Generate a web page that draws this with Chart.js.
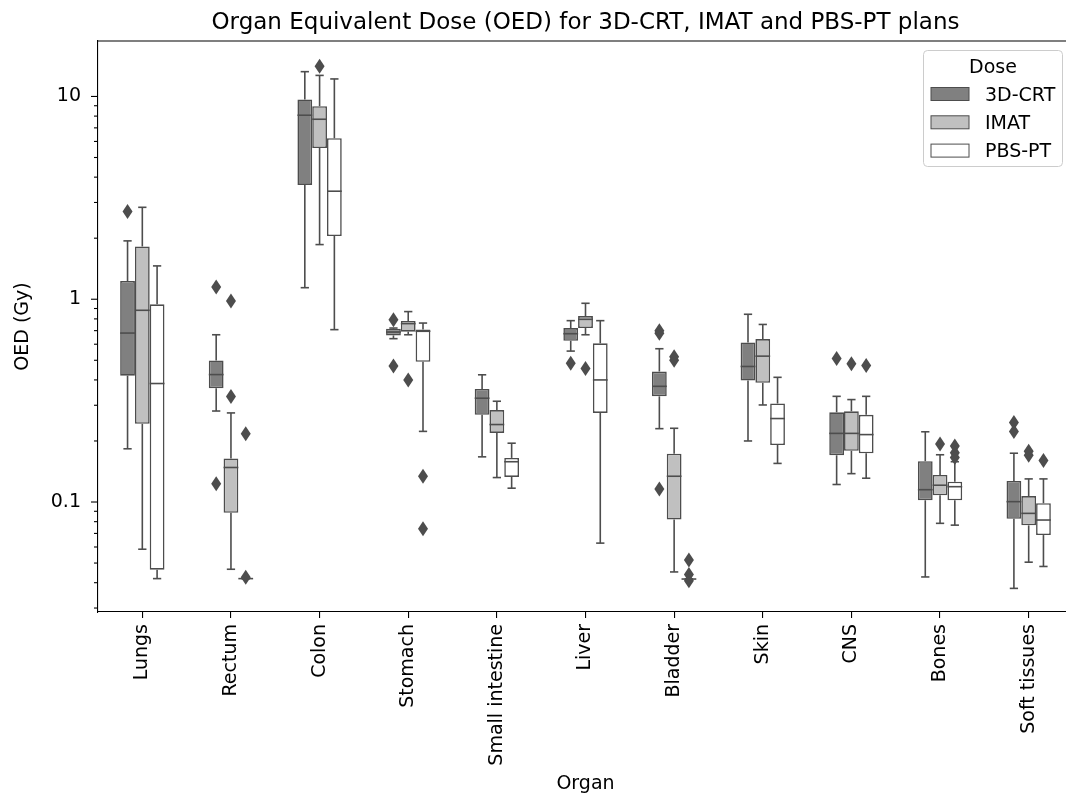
<!DOCTYPE html>
<html lang="en">
<head>
  <meta charset="UTF-8">
  <title>Organ Equivalent Dose</title>
  <script src="https://cdn.jsdelivr.net/npm/chart.js"></script>
  <style>
    html, body { margin: 0; padding: 0; overflow: hidden; background: #fff; }
    #wrap { width: 1080px; height: 795px; }
  </style>
</head>
<body>
<div id="wrap"><canvas id="grafico" width="1080" height="795"></canvas></div>
<script>
  const organs = ['Lungs', 'Rectum', 'Colon', 'Stomach', 'Small intestine', 'Liver', 'Bladder', 'Skin', 'CNS', 'Bones', 'Soft tissues'];
  const doses = ['3D-CRT', 'IMAT', 'PBS-PT'];
  const yMajor = [0.1, 1, 10];
  const yMajorLabels = ['0.1', '1', '10'];
  const yMinor = [0.03, 0.04, 0.05, 0.06, 0.07, 0.08, 0.09, 0.2, 0.3, 0.4, 0.5, 0.6, 0.7, 0.8, 0.9, 2, 3, 4, 5, 6, 7, 8, 9];

  // 3D-CRT
  const crtLow  = [0.183, 0.281, 1.14, 0.639, 0.167, 0.555, 0.23, 0.200, 0.122, 0.0427, 0.0375];
  const crtQ1   = [0.42, 0.364, 3.66, 0.663, 0.269, 0.624, 0.332, 0.397, 0.170, 0.102, 0.0827];
  const crtMed  = [0.681, 0.425, 8.08, 0.689, 0.325, 0.676, 0.372, 0.466, 0.218, 0.115, 0.1004];
  const crtQ3   = [1.23, 0.499, 9.67, 0.716, 0.361, 0.721, 0.44, 0.612, 0.277, 0.159, 0.127];
  const crtHigh = [1.94, 0.668, 13.25, 0.721, 0.424, 0.784, 0.57, 0.843, 0.332, 0.222, 0.174];
  const crtOut  = [[2.71], [1.15, 0.123], [], [0.793, 0.468], [], [0.484], [0.68, 0.70, 0.116], [], [0.510], [], [0.247, 0.223]];

  // IMAT
  const imatLow  = [0.0585, 0.0466, 1.86, 0.668, 0.132, 0.668, 0.0452, 0.301, 0.138, 0.0785, 0.0505];
  const imatQ1   = [0.243, 0.0885, 5.57, 0.692, 0.219, 0.721, 0.082, 0.387, 0.179, 0.108, 0.0767];
  const imatMed  = [0.882, 0.148, 7.72, 0.758, 0.241, 0.796, 0.134, 0.524, 0.218, 0.121, 0.0879];
  const imatQ3   = [1.82, 0.164, 8.95, 0.781, 0.284, 0.826, 0.173, 0.636, 0.280, 0.136, 0.107];
  const imatHigh = [2.84, 0.275, 12.7, 0.869, 0.314, 0.955, 0.231, 0.751, 0.320, 0.171, 0.130];
  const imatOut  = [[], [0.98, 0.331], [14.1], [0.40], [], [0.455], [0.50, 0.52], [], [0.481], [0.193], [0.178, 0.170]];

  // PBS-PT
  const pbsLow  = [0.0419, 0.0419, 0.708, 0.223, 0.117, 0.0627, 0.0417, 0.155, 0.131, 0.0769, 0.0481];
  const pbsQ1   = [0.0464, 0.0419, 2.05, 0.491, 0.133, 0.275, 0.0417, 0.191, 0.174, 0.102, 0.0687];
  const pbsMed  = [0.384, 0.0419, 3.41, 0.695, 0.158, 0.40, 0.0417, 0.258, 0.215, 0.119, 0.0815];
  const pbsQ3   = [0.944, 0.0419, 6.22, 0.710, 0.165, 0.606, 0.0417, 0.306, 0.269, 0.126, 0.0986];
  const pbsHigh = [1.46, 0.0419, 12.2, 0.763, 0.195, 0.784, 0.0417, 0.412, 0.332, 0.158, 0.130];
  const pbsOut  = [[], [0.217, 0.0425], [], [0.134, 0.0738], [], [], [0.0518, 0.0439, 0.0409], [], [0.471], [0.189, 0.175, 0.166], [0.160]];

  const fills = ['#808080', '#c0c0c0', '#ffffff'];
  const lineCol = '#4d4d4d';
  const fonte = "'DejaVu Sans', sans-serif";

  const series = [
    { low: crtLow, q1: crtQ1, med: crtMed, q3: crtQ3, high: crtHigh, out: crtOut },
    { low: imatLow, q1: imatQ1, med: imatMed, q3: imatQ3, high: imatHigh, out: imatOut },
    { low: pbsLow, q1: pbsQ1, med: pbsMed, q3: pbsQ3, high: pbsHigh, out: pbsOut }
  ];

  function line(ctx, x1, y1, x2, y2) {
    ctx.beginPath();
    ctx.moveTo(x1, y1);
    ctx.lineTo(x2, y2);
    ctx.stroke();
  }

  // whiskers, medians, outliers, ticks, title and legend
  const boxPlugin = {
    id: 'boxParts',
    beforeDatasetsDraw(chart) {
      const ctx = chart.ctx, y = chart.scales.y;
      ctx.save();
      ctx.strokeStyle = lineCol;
      ctx.lineWidth = 1.6;
      series.forEach((s, d) => {
        chart.getDatasetMeta(d).data.forEach((bar, i) => {
          const x = bar.x, cap = bar.width * 0.28;
          const yl = y.getPixelForValue(s.low[i]), yh = y.getPixelForValue(s.high[i]);
          line(ctx, x, y.getPixelForValue(s.q3[i]), x, yh);
          line(ctx, x, y.getPixelForValue(s.q1[i]), x, yl);
          line(ctx, x - cap, yh, x + cap, yh);
          line(ctx, x - cap, yl, x + cap, yl);
        });
      });
      ctx.restore();
    },
    afterDatasetsDraw(chart) {
      const ctx = chart.ctx, y = chart.scales.y;
      ctx.save();
      ctx.strokeStyle = lineCol;
      ctx.fillStyle = lineCol;
      ctx.lineWidth = 1.6;
      series.forEach((s, d) => {
        chart.getDatasetMeta(d).data.forEach((bar, i) => {
          const x = bar.x, hw = bar.width / 2;
          const ym = y.getPixelForValue(s.med[i]);
          line(ctx, x - hw, ym, x + hw, ym);
          s.out[i].forEach(v => {
            const yo = y.getPixelForValue(v);
            ctx.beginPath();
            ctx.moveTo(x, yo - 7.5);
            ctx.lineTo(x + 5, yo);
            ctx.lineTo(x, yo + 7.5);
            ctx.lineTo(x - 5, yo);
            ctx.closePath();
            ctx.fill();
          });
        });
      });
      ctx.restore();
    },
    afterDraw(chart) {
      const ctx = chart.ctx, y = chart.scales.y, a = chart.chartArea;
      ctx.save();
      ctx.strokeStyle = '#000';
      ctx.lineWidth = 1.1;
      yMajor.forEach(v => { const p = y.getPixelForValue(v); line(ctx, a.left - 7, p, a.left, p); });
      yMinor.forEach(v => { const p = y.getPixelForValue(v); line(ctx, a.left - 4, p, a.left, p); });
      line(ctx, a.left, a.top, a.right, a.top);

      ctx.fillStyle = '#000';
      ctx.font = '23px ' + fonte;
      ctx.textAlign = 'center';
      ctx.textBaseline = 'alphabetic';
      ctx.fillText('Organ Equivalent Dose (OED) for 3D-CRT, IMAT and PBS-PT plans', (a.left + a.right) / 2, 29);

      // legend
      ctx.fillStyle = 'rgba(255,255,255,0.8)';
      ctx.strokeStyle = '#cccccc';
      ctx.lineWidth = 1;
      ctx.beginPath();
      ctx.roundRect(923.5, 50.5, 139, 116, 4);
      ctx.fill();
      ctx.stroke();
      ctx.fillStyle = '#000';
      ctx.font = '19px ' + fonte;
      ctx.fillText('Dose', 993, 73);
      ctx.textAlign = 'left';
      doses.forEach((nome, k) => {
        const cy = 94 + k * 28.3;
        ctx.fillStyle = fills[k];
        ctx.fillRect(931, cy - 6.5, 38, 13);
        ctx.strokeStyle = lineCol;
        ctx.strokeRect(931, cy - 6.5, 38, 13);
        ctx.fillStyle = '#000';
        ctx.fillText(nome, 985, cy + 6.5);
      });
      ctx.restore();
    }
  };

  const ctx1 = document.getElementById('grafico').getContext('2d');
  const grafico = new Chart(ctx1, {
    type: 'bar',
    data: {
      labels: organs,
      datasets: series.map((s, d) => ({
        label: doses[d],
        data: organs.map((_, i) => [s.q1[i], s.q3[i]]),
        backgroundColor: fills[d],
        borderColor: lineCol,
        borderWidth: 1.6,
        borderSkipped: false,
        barPercentage: 1,
        categoryPercentage: 0.5
      }))
    },
    options: {
      responsive: false,
      animation: false,
      layout: { padding: { top: 41, right: 7, left: 0, bottom: 0 } },
      plugins: {
        legend: { display: false },
        tooltip: { enabled: false },
        title: { display: false }
      },
      scales: {
        x: {
          grid: { offset: false, drawOnChartArea: false, tickLength: 6, color: '#000', lineWidth: 1.1 },
          border: { display: true, color: '#000', width: 1.1 },
          ticks: { minRotation: 90, maxRotation: 90, autoSkip: false, padding: 6, color: '#000', font: { family: fonte, size: 19 } },
          title: { display: true, text: 'Organ', color: '#000', padding: { top: 0, bottom: 0 }, font: { family: fonte, size: 19 } },
          afterFit(scale) { scale.height = 183; }
        },
        y: {
          type: 'logarithmic',
          min: 0.02868,
          max: 18.77,
          grid: { drawOnChartArea: false, tickLength: 7, color: 'rgba(0,0,0,0)' },
          border: { display: true, color: '#000', width: 1.1 },
          ticks: {
            autoSkip: false,
            padding: 10,
            color: '#000',
            font: { family: fonte, size: 19 },
            callback: (v) => { const k = yMajor.indexOf(v); return k >= 0 ? yMajorLabels[k] : ''; }
          },
          afterBuildTicks(scale) { scale.ticks = yMajor.map(v => ({ value: v })); },
          title: { display: true, text: 'OED (Gy)', color: '#000', padding: { top: 12, bottom: 0 }, font: { family: fonte, size: 19 } },
          afterFit(scale) { scale.width = 98; }
        }
      }
    },
    plugins: [boxPlugin]
  });
</script>
</body>
</html>
